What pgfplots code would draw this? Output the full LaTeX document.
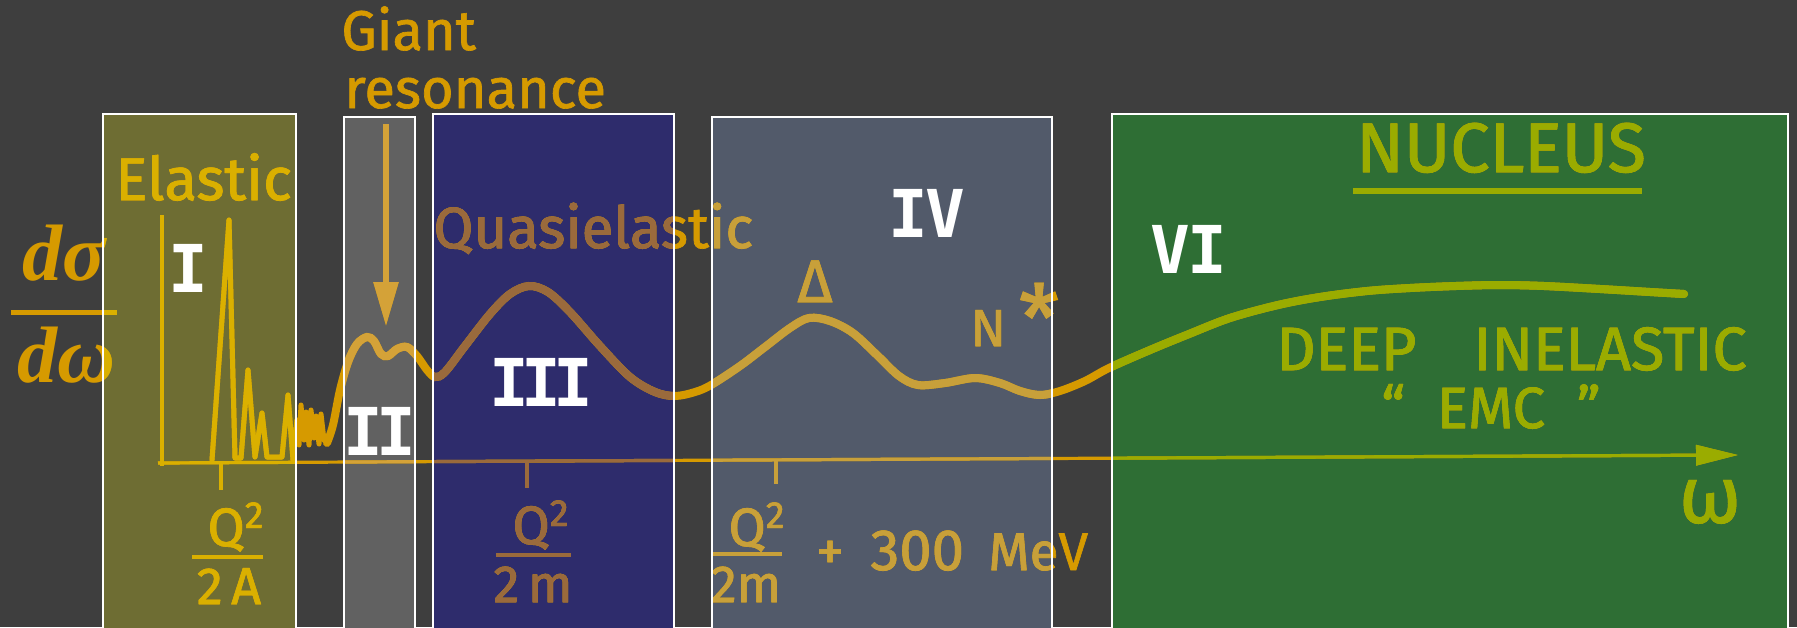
\documentclass[border=0pt]{standalone}
\usepackage{pgfplots}
\pgfplotsset{compat=1.18}
\usepackage{pgfplotstable}
\usepackage{fontspec}
\usetikzlibrary{arrows.meta}
\setmainfont{Fira Sans}[FakeBold=1.2]
\newfontfamily\lbl{Fira Sans}[FakeBold=1.2]
\newfontfamily\numfont{DejaVu Sans Mono}
\newfontfamily\mfont{Liberation Serif}
\newcommand{\fs}[1]{\fontsize{#1}{#1}\selectfont}

\definecolor{bg}{HTML}{3E3E3E}
\definecolor{bI}{HTML}{6E6D33}
\definecolor{bII}{HTML}{616161}
\definecolor{bIII}{HTML}{2E2C6C}
\definecolor{bIV}{HTML}{525A6A}
\definecolor{bVI}{HTML}{2E6E34}
\definecolor{cO}{HTML}{D69A00}
\definecolor{cI}{HTML}{DAB000}
\definecolor{cII}{HTML}{D4A238}
\definecolor{cIII}{HTML}{9A6A3C}
\definecolor{cIV}{HTML}{C8A03A}
\definecolor{cVI}{HTML}{9AAC00}

% elastic spikes and the noisy part (pixel coordinates, y downwards)
\pgfplotstableread{
x y
212 460
229 220
235 458
241 458
248 370
255 457
262 413
267 457
282 457
288 395
293 460
297 420
299 445
301 405
304 440
306 412
309 445
311 410
314 438
316 416
319 444
321 414
324 440
327 443
}\tspikes

% smooth response curve
\pgfplotstableread{
x y
327 443
333 425
340 390
348 362
357 344
367 337
374 341
381 354
388 356
397 349
407 347
417 356
427 370
435 377
445 372
465 346
490 314
510 294
529 286
548 292
570 312
600 346
630 377
655 392
675 396
695 392
711 385
740 366
765 347
790 328
809 318
830 321
853 333
878 356
899 376
918 385
945 383
975 378
1000 383
1020 391
1040 395
1060 391
1085 381
1109 368
1150 350
1189 334
1230 318
1278 305
1320 297
1367 291
1410 288
1456 286
1500 285
1544 286
1600 289
1650 292
1684 294
}\tcurve

\pgfplotstableread{
x y
162 215
162 466
}\tvaxis

\pgfplotstableread{
x y
158 463
1738 455
}\thaxis

\newcommand{\layer}[1]{%
  \addplot[#1, mark=none, line width=2.5pt, line join=round, line cap=round] table {\tspikes};
  \addplot[#1, mark=none, smooth, tension=0.55, line width=4pt, line cap=round] table {\tcurve};
  \addplot[#1, mark=none, line width=2pt] table {\tvaxis};
  \addplot[#1, mark=none, line width=1.6pt, -{Triangle[length=21pt,width=10pt]}] table {\thaxis};
  \addplot[#1, mark=none, line width=1.6pt] coordinates {(221,463) (221,490)};
  \addplot[#1, mark=none, line width=1.6pt] coordinates {(527,462) (527,488)};
  \addplot[#1, mark=none, line width=1.6pt] coordinates {(776,460) (776,484)};
  \draw[#1, line width=2.6pt, -{Triangle[length=22pt,width=12pt]}] (axis cs:386,124) -- (axis cs:386,326);
  % labels
  \node[anchor=base west, inner sep=0, text=#1, font=\lbl\fs{28}] at (axis cs:341,50) {Giant};
  \node[anchor=base west, inner sep=0, text=#1, font=\lbl\fs{28}] at (axis cs:344,108) {resonance};
  \node[anchor=base west, inner sep=0, text=#1, font=\lbl\fs{30}] at (axis cs:115,200) {Elastic};
  \node[anchor=base west, inner sep=0, text=#1, font=\lbl\fs{29}] at (axis cs:433,248) {Quasielastic};
  \node[anchor=base, inner sep=0, text=#1, font=\lbl\fs{30}] at (axis cs:815,302) {Δ};
  \node[anchor=base west, inner sep=0, text=#1, font=\lbl\fs{26}] at (axis cs:970,346) {N\hspace{0.25em}\raisebox{-0.1em}{\fs{46}*}};
  \node[anchor=base, inner sep=0, text=#1, font=\lbl\fs{35}] at (axis cs:1501,172) {NUCLEUS};
  \draw[#1, line width=3pt] (axis cs:1353,191) -- (axis cs:1642,191);
  \node[anchor=base west, inner sep=0, text=#1, font=\lbl\fs{30.5}] at (axis cs:1276,370) {DEEP};
  \node[anchor=base west, inner sep=0, text=#1, font=\lbl\fs{30.5}] at (axis cs:1473,370) {INELASTIC};
  \node[anchor=base, inner sep=0, text=#1, font=\lbl\fs{29}] at (axis cs:1491,428) {“\hspace{0.55em}EMC\hspace{0.55em}”};
  \node[anchor=center, inner sep=0, text=#1, font=\lbl\fs{40}] at (axis cs:1710,502) {ω};
  % d sigma / d omega
  \node[anchor=base, inner sep=0, text=#1, font=\mfont\bfseries\itshape\fs{40}] at (axis cs:64,280) {dσ};
  \draw[#1, line width=2.5pt] (axis cs:11,312) -- (axis cs:117,312);
  \node[anchor=base, inner sep=0, text=#1, font=\mfont\bfseries\itshape\fs{40}] at (axis cs:66,382) {dω};
  % tick labels
  \node[anchor=base, inner sep=0, text=#1, font=\lbl\fs{27}] at (axis cs:236,546) {Q\textsuperscript{2}};
  \draw[#1, line width=2pt] (axis cs:192,557) -- (axis cs:263,557);
  \node[anchor=base, inner sep=0, text=#1, font=\lbl\fs{26}] at (axis cs:229,604) {2\,A};
  \node[anchor=base, inner sep=0, text=#1, font=\lbl\fs{27}] at (axis cs:541,544) {Q\textsuperscript{2}};
  \draw[#1, line width=2pt] (axis cs:496,555) -- (axis cs:571,555);
  \node[anchor=base, inner sep=0, text=#1, font=\lbl\fs{26}] at (axis cs:533,602) {2\,m};
  \node[anchor=base, inner sep=0, text=#1, font=\lbl\fs{27}] at (axis cs:757,546) {Q\textsuperscript{2}};
  \draw[#1, line width=2pt] (axis cs:711,554) -- (axis cs:782,554);
  \node[anchor=base, inner sep=0, text=#1, font=\lbl\fs{26}] at (axis cs:746,602) {2m};
  \node[anchor=base, inner sep=0, text=#1, font=\lbl\fs{28}] at (axis cs:830,570) {+};
  \node[anchor=base west, inner sep=0, text=#1, font=\lbl\fs{29}] at (axis cs:870,570) {300};
  \node[anchor=base west, inner sep=0, text=#1, font=\lbl\fs{26.5}] at (axis cs:988,570) {MeV};
}

\newcommand{\boxclip}[5]{%
  \begin{scope}
    \clip (axis cs:#1,#2) rectangle (axis cs:#3,#4);
    \layer{#5}
  \end{scope}
}

\begin{document}
\begin{tikzpicture}
\begin{axis}[
  name=ax,
  width=898.5pt, height=313.5pt, scale only axis,
  xmin=0, xmax=1797, ymin=0, ymax=627, y dir=reverse,
  hide axis, clip=false,
]
  \fill[bg] (axis cs:0,0) rectangle (axis cs:1797,627);
  \fill[bI]   (axis cs:103,114) rectangle (axis cs:296,640);
  \fill[bII]  (axis cs:344,117) rectangle (axis cs:415,640);
  \fill[bIII] (axis cs:433,114) rectangle (axis cs:674,640);
  \fill[bIV]  (axis cs:712,117) rectangle (axis cs:1052,640);
  \fill[bVI]  (axis cs:1112,114) rectangle (axis cs:1788,640);

  \layer{cO}
  \boxclip{103}{114}{296}{640}{cI}
  \boxclip{344}{117}{415}{640}{cII}
  \boxclip{433}{114}{674}{640}{cIII}
  \boxclip{712}{117}{1052}{640}{cIV}
  \boxclip{1112}{114}{1788}{640}{cVI}

  \draw[white, line width=1pt] (axis cs:103,114) rectangle (axis cs:296,640);
  \draw[white, line width=1pt] (axis cs:344,117) rectangle (axis cs:415,640);
  \draw[white, line width=1pt] (axis cs:433,114) rectangle (axis cs:674,640);
  \draw[white, line width=1pt] (axis cs:712,117) rectangle (axis cs:1052,640);
  \draw[white, line width=1pt] (axis cs:1112,114) rectangle (axis cs:1788,640);

  \node[text=white, inner sep=0, font=\numfont\bfseries\fs{33}] at (axis cs:188,268) {I};
  \node[text=white, inner sep=0, font=\numfont\bfseries\fs{33}] at (axis cs:380,431) {I\kern-0.1em I};
  \node[text=white, inner sep=0, font=\numfont\bfseries\fs{33}] at (axis cs:541,382) {I\kern-0.12em I\kern-0.12em I};
  \node[text=white, inner sep=0, font=\numfont\bfseries\fs{33}] at (axis cs:927,213) {I\kern-0.05em V};
  \node[text=white, inner sep=0, font=\numfont\bfseries\fs{33}] at (axis cs:1189,249) {V\kern-0.05em I};
\end{axis}
\pgfresetboundingbox
\useasboundingbox (ax.south west) rectangle (ax.north east);
\end{tikzpicture}
\end{document}
